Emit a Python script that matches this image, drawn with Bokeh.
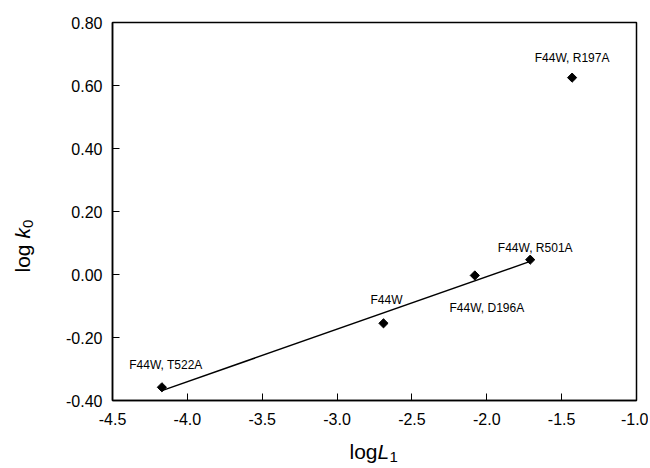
import numpy as np
from bokeh.plotting import figure
from bokeh.layouts import row, column
from bokeh.models import Label, FixedTicker, PrintfTickFormatter, Range1d, ColumnDataSource
from bokeh.embed import file_html
from bokeh.resources import INLINE

# ---- data ----
mutants = ["F44W, T522A", "F44W", "F44W, D196A", "F44W, R501A", "F44W, R197A"]
log_L1 = [-4.17, -2.69, -2.08, -1.71, -1.43]
log_k0 = [-0.358, -0.155, -0.003, 0.047, 0.625]
in_fit = [True, True, True, True, False]
x_ticks = [-4.5, -4.0, -3.5, -3.0, -2.5, -2.0, -1.5, -1.0]
y_ticks = [-0.40, -0.20, 0.00, 0.20, 0.40, 0.60, 0.80]

# label placement (screen px offsets from each point)
label_offsets = {
    "F44W, T522A": (4, 22),
    "F44W": (3, 23),
    "F44W, D196A": (12, -33),
    "F44W, R501A": (5, 12),
    "F44W, R197A": (0, 20),
}

FONT = "Liberation Sans"
YT_W = 56  # width of the strip holding the y-axis title

# ---- main plot ----
p = figure(width=650 - YT_W - 2, height=436,
           x_range=Range1d(-4.5, -1.0), y_range=Range1d(-0.4, 0.8),
           output_backend="svg", toolbar_location=None,
           min_border_left=112 - YT_W, min_border_right=12,
           min_border_top=22, min_border_bottom=36)
p.grid.visible = False
p.outline_line_color = "black"
p.outline_line_width = 1.5
p.background_fill_color = "white"
p.border_fill_color = "white"

for ax, ticks, fmt, standoff in ((p.xaxis[0], x_ticks, "%.1f", 12), (p.yaxis[0], y_ticks, "%.2f", 10)):
    ax.ticker = FixedTicker(ticks=ticks, minor_ticks=[])
    ax.formatter = PrintfTickFormatter(format=fmt)
    ax.major_tick_in = 7
    ax.major_tick_out = 0
    ax.minor_tick_in = 0
    ax.minor_tick_out = 0
    ax.axis_line_width = 1.5
    ax.axis_line_color = "black"
    ax.major_tick_line_color = "black"
    ax.major_tick_line_width = 1
    ax.major_label_text_font = FONT
    ax.major_label_text_font_size = "16px"
    ax.major_label_text_color = "black"
    ax.major_label_standoff = standoff

# regression line through the fitted mutants
fx = np.array([x for x, f in zip(log_L1, in_fit) if f])
fy = np.array([y for y, f in zip(log_k0, in_fit) if f])
slope, intercept = np.polyfit(fx, fy, 1)
lx = np.array([fx.min(), fx.max()])
p.line(lx, slope * lx + intercept, line_color="black", line_width=1.5)

src = ColumnDataSource(dict(x=log_L1, y=log_k0, name=mutants))
p.scatter("x", "y", source=src, marker="square", angle=np.pi / 4, size=6.5,
          fill_color="black", line_color="black")

for name, x, y in zip(mutants, log_L1, log_k0):
    dx, dy = label_offsets[name]
    p.add_layout(Label(x=x, y=y, x_offset=dx, y_offset=dy, text=name,
                       text_align="center", text_baseline="alphabetic",
                       text_font=FONT, text_font_size="12px", text_color="black"))


# ---- axis-title strips (plain text pieces, so that italics and subscripts are kept) ----
def strip(w, h, left=0, right=0):
    f = figure(width=w, height=h, title=None,
               x_range=Range1d(0, 1), y_range=Range1d(0, 1),
               x_axis_type=None, y_axis_type=None, output_backend="svg",
               toolbar_location=None,
               min_border_left=left, min_border_right=right,
               min_border_top=0, min_border_bottom=0)
    f.outline_line_color = None
    f.grid.visible = False
    f.background_fill_color = "white"
    f.border_fill_color = "white"
    return f


def piece(f, text, x, y, size="21px", style="normal", angle=0.0):
    f.add_layout(Label(x=x, y=y, x_units="screen", y_units="screen", text=text,
                       text_align="left", text_baseline="alphabetic",
                       angle=angle, text_font=FONT, text_font_size=size,
                       text_font_style=style, text_color="black"))


# x title strip: frame lines up with the main frame (page x 112..636)
xt = strip(650 - YT_W - 2, 30, left=112 - YT_W, right=12)
bx, by = 237, 15
piece(xt, "log", bx, by)
piece(xt, "L", bx + 28.0, by, style="italic")
piece(xt, "1", bx + 40.0, by - 5, size="15px")

# y title strip
yt = strip(YT_W, 466)
tx, ty = 22, 194
piece(yt, "log ", tx, ty, angle=np.pi / 2)
piece(yt, "k", tx, ty + 33.9, style="italic", angle=np.pi / 2)
piece(yt, "0", tx + 5, ty + 44.5, size="15px", angle=np.pi / 2)

layout = row(yt, column(p, xt, spacing=0), spacing=0)

open("out.html", "w").write(file_html(layout, INLINE))
